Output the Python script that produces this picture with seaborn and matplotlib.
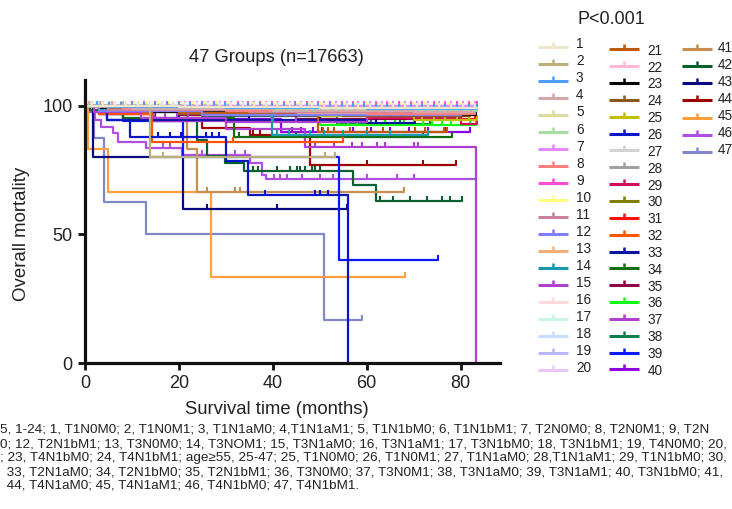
import numpy as np
import pandas as pd
import matplotlib
matplotlib.use("Agg")
import matplotlib.pyplot as plt
from matplotlib.lines import Line2D
import seaborn as sns

# ---------------- data ----------------
group_labels = [str(i) for i in range(1, 48)]

colors = [
    "#ece6cc", "#bcb079", "#4d9fff", "#d4a9a9", "#d9d9a0", "#a6dda0", "#e28bff", "#ff7f7f",
    "#ff4fd3", "#ffff80", "#c87fa0", "#8080ff", "#f5b07a", "#1a9aaa", "#b040d0", "#ffdada",
    "#c8f5e6", "#c8ddff", "#b8b8ff", "#ebc8f5",
    "#c05a0a", "#ffb8d8", "#000000", "#8b5a1a", "#c0c000", "#0a14c8", "#d3d3d3", "#a0a0a0",
    "#d0105a", "#7f7f00", "#ff1010", "#ff5500", "#0a14a0", "#107010", "#900040", "#10ff10",
    "#b040d0", "#108050", "#0a1aff", "#9000e0",
    "#c89050", "#0b6030", "#0a0a80", "#a00000", "#ffa040", "#b050e0", "#8088c8",
]

event_times = [
    [20, 50], [13.9], [5, 30, 60], [10, 40, 70], [15, 50], [10, 40, 70], [], [8, 30, 60],
    [], [20], [5, 35], [3, 25], [10, 45], [3, 39.8], [2, 12, 30], [30],
    [15], [25, 60], [10, 50], [5, 40],
    [5, 20, 35, 49.7], [15], [3, 14.8, 50, 80], [4, 20, 55], [5, 25, 50, 70],
    [4.6, 9.6, 30, 34.8, 56], [10, 40], [5, 30, 60], [5, 25, 60, 80], [3, 20, 50],
    [10, 40, 70], [3, 14.2], [3, 4.6, 60], [8, 31.7], [6, 20, 45], [20, 50],
    [4, 14, 30, 46.9, 83.2], [5, 25, 53.6], [3, 8, 20.8, 54], [3, 15, 41.8],
    [5, 21.7, 23.8], [1, 8, 23.8, 25.9, 29.8, 33.8, 57, 62], [1.6, 20.8],
    [5, 15, 25, 35.2, 48], [0.7, 4.8, 26.8],
    [1, 2.1, 3.5, 6, 7, 12.9, 20.6, 35.2, 37.7, 38.5], [2, 4, 13, 51],
]

event_surv = [
    [99.6, 99.2], [80], [99.5, 99.2, 98.8], [99, 98, 97.5], [99.4, 98.8], [99.3, 98.6, 98], [], [99, 98, 97],
    [], [99.5], [98.5, 97.5], [98, 96.5], [98.5, 97], [98.4, 88.7], [97.5, 95.5, 93.8], [99.5],
    [99.6], [99.3, 98.9], [99.2, 98.5], [99.5, 99],
    [98.7, 97.3, 96.7, 90], [99.7], [99.3, 97.6, 97.2, 96.5], [98.5, 97, 96], [99, 97.5, 96, 94.5],
    [94.5, 88, 78.6, 65.3, 0], [99.4, 99], [98.8, 97.8, 97], [98.5, 96.5, 95.5, 93], [99, 97.8, 96.5],
    [98, 96.5, 95], [97, 86.1], [97, 94.5, 93.5], [95.2, 88], [98, 96.5, 95], [97, 92.6],
    [97, 94, 91, 84.2, 0], [98, 96, 93], [97, 94, 80, 40], [98, 95, 90],
    [97.5, 83.3, 66.7], [98.5, 95, 86.8, 80.5, 78, 74.7, 69.3, 62.9], [80, 60],
    [97, 94, 91.5, 88.7, 77], [83.3, 66.7, 33.3],
    [97.5, 94.5, 92, 89.5, 86, 83.5, 80.9, 77.8, 73.2, 71.4], [87.5, 62.5, 50, 16.7],
]

end_times = [
    83.5, 53.2, 83.5, 83, 83.5, 83.5, 83.5, 83, 83.5, 83.5, 82, 80, 82, 73, 60, 83.5,
    83.5, 83.5, 83.5, 83.5,
    77.1, 83.5, 83.3, 82, 83.5, 56, 83.5, 83, 83.5, 82, 83, 55, 70.4, 78.2, 80, 83.3,
    83.2, 73.5, 75.2, 82,
    68, 80.3, 55.8, 79.1, 68.1, 83.2, 59.1,
]

dense_a = [1.4, 3.9, 6.3, 8.8, 11.2, 13.9, 16.3, 18.7, 21.4, 23.8, 26.1, 28.7, 31.2, 33.6, 36.1, 38.5, 41.0,
           43.6, 46.0, 48.3, 50.9, 53.4, 55.8, 58.2, 60.7, 63.3, 65.6, 68.1, 70.7, 73.1, 75.4, 78.0, 80.5, 83.0]
dense_b = [2.6, 5.1, 7.7, 10.1, 12.6, 15.0, 17.5, 20.1, 22.4, 25.0, 27.4, 29.9, 32.5, 34.8, 37.3, 39.8, 42.3,
           44.7, 47.2, 49.6, 52.1, 54.7, 57.0, 59.5, 62.0, 64.4, 66.9, 69.4, 71.8, 74.3, 76.7, 79.3, 81.7, 83.4]
dense_c = [0.8, 3.2, 5.7, 8.1, 10.6, 12.9, 15.6, 17.9, 20.5, 22.9, 25.6, 27.9, 30.4, 32.9, 35.5, 37.8, 40.3,
           42.9, 45.3, 47.7, 50.2, 52.6, 55.1, 57.6, 60.1, 62.6, 65.0, 67.5, 70.0, 72.4, 74.9, 77.3, 79.9, 82.3]

censor_times = [
    dense_a, [16.7, 51.2, 53.2], dense_b, dense_c, dense_a, dense_b, dense_a, dense_c,
    dense_b, dense_c, [10, 25, 40, 55, 70, 82], [20, 45, 66, 80], [12, 33, 58, 82],
    [41, 43.5, 48, 51, 55, 60, 65, 73], [14.8, 17, 19.5, 22, 26, 40, 45, 60], dense_c,
    dense_a, dense_b, dense_c, dense_a,
    [20, 36, 38, 41, 43, 50.8, 51.8, 53, 56.5, 60, 63.5, 70.3, 72.5, 76.5, 77.1], dense_b,
    [15.5, 16.2, 17, 17.8, 18.6, 19.5, 20.5, 22, 30, 34, 38, 42, 46, 50, 55, 60, 65, 70, 75, 80, 83.3],
    [8, 25, 32.5, 33.5, 39, 43, 47, 56, 62, 68, 74, 80, 82], dense_b,
    [15.5, 18, 20.5, 25.8, 27, 28.5, 38.4, 49, 50.1, 51.8], dense_c, [12, 28, 44, 60, 76, 83],
    [18, 30, 38, 44, 52, 60, 68, 76, 83.5], [15, 30, 45, 60, 75, 82], [22, 36, 48, 58, 66, 74, 80, 83],
    [31.6, 55], [20, 35, 50, 62, 70.4], [32.7, 45, 55, 65, 72, 78.2], [25, 50, 65, 80],
    [54, 56, 58, 60, 62, 64, 66, 68, 70, 72, 74, 76, 78, 80, 82, 83.3],
    [49, 53, 56.9, 59, 62.2, 64, 70, 71], [55, 58, 61, 64, 67, 70, 73.5], [53.3, 75.2],
    [44, 46, 48.5, 50.5, 53, 57, 61, 65, 69, 73, 77, 82],
    [26, 32, 33, 68],
    [35.8, 36.9, 40.9, 43.7, 45.2, 45.8, 46.9, 48.4, 49, 50.1, 62.9, 65.7, 69.3, 72.9, 76.1, 77.8, 80.3],
    [26, 41, 55.8], [35.8, 37.2, 60, 72, 79.1], [68.1],
    [16.7, 18.1, 24.9, 32, 34.1, 40.2, 41.6, 43, 46.2, 50.1, 52.9, 60, 66.5, 70], [59.1],
]

x_ticks = [0, 20, 40, 60, 80]
y_ticks = [0, 50, 100]

title_text = "47 Groups (n=17663)"
pvalue_text = "P<0.001"
caption_lines = [
    "5, 1-24; 1, T1N0M0; 2, T1N0M1; 3, T1N1aM0; 4,T1N1aM1; 5, T1N1bM0; 6, T1N1bM1; 7, T2N0M0; 8, T2N0M1; 9, T2N",
    "0; 12, T2N1bM1; 13, T3N0M0; 14, T3NOM1; 15, T3N1aM0; 16, T3N1aM1; 17, T3N1bM0; 18, T3N1bM1; 19, T4N0M0; 20,",
    "; 23, T4N1bM0; 24, T4N1bM1; age\u226555, 25-47; 25, T1N0M0; 26, T1N0M1; 27, T1N1aM0; 28,T1N1aM1; 29, T1N1bM0; 30,",
    " 33, T2N1aM0; 34, T2N1bM0; 35, T2N1bM1; 36, T3N0M0; 37, T3N0M1; 38, T3N1aM0; 39, T3N1aM1; 40, T3N1bM0; 41,",
    " 44, T4N1aM0; 45, T4N1aM1; 46, T4N1bM0; 47, T4N1bM1.",
]

# ---------------- style ----------------
sns.set_style("ticks")
plt.rcParams["font.family"] = ["Liberation Sans", "DejaVu Sans"]
TXT = "#222222"

W, H = 732, 509
fig = plt.figure(figsize=(W / 100, H / 100), dpi=100)
ax = fig.add_axes([85 / W, 1 - 363 / H, 415 / W, 283 / H])


def surv_at(ts, ss, x):
    val = 100.0
    for t, s in zip(ts, ss):
        if t <= x:
            val = s
    return val


for gi in reversed(range(len(group_labels))):
    ts, ss = event_times[gi], event_surv[gi]
    last = ss[-1] if ss else 100.0
    df = pd.DataFrame({"time": [0.0] + ts + [end_times[gi]],
                       "surv": [100.0] + ss + [last]})
    sns.lineplot(data=df, x="time", y="surv", color=colors[gi], lw=1.6,
                 drawstyle="steps-post", estimator=None, sort=False, ax=ax, legend=False)
    ct = censor_times[gi]
    cs = [surv_at(ts, ss, x) for x in ct]
    ax.plot(ct, cs, ls="none", marker=2, ms=3.6, mew=1.5, color=colors[gi])

ax.set_xlim(0, 88.4)
ax.set_ylim(0, 110.1)
ax.set_xticks(x_ticks)
ax.set_yticks(y_ticks)
sns.despine(ax=ax)
for side in ["left", "bottom"]:
    ax.spines[side].set_linewidth(2.3)
    ax.spines[side].set_color("#111111")
ax.tick_params(axis="both", length=5, width=2.0, color="#111111", labelsize=13,
               labelcolor=TXT, pad=4)

ax.set_xlabel("Survival time (months)", fontsize=13.3, color=TXT)
ax.set_ylabel("Overall mortality", fontsize=13.4, color=TXT)
ax.xaxis.set_label_coords((277 - 85) / 415, (363 - 410) / 283)
ax.xaxis.label.set_va("center")
ax.yaxis.set_label_coords((22 - 85) / 415, (363 - 234) / 283)
ax.yaxis.label.set_va("center")
ax.set_title(title_text, fontsize=13.2, color=TXT, x=(276 - 85) / 415,
             y=(363 - 58) / 283, va="center", pad=0)

fig.text(611 / W, 1 - 20 / H, pvalue_text, fontsize=13, color=TXT, ha="center", va="center")

# ---------------- legend (three columns: 20, 20, 7) ----------------
legend_cols = [
    # first index, count, handle x0, handle x1, label x, handle y0, label y0, pitch
    (0, 20, 538, 568, 576, 46.5, 44.3, 17.05),
    (20, 20, 609, 639, 647.5, 49.3, 50.7, 16.85),
    (40, 7, 682, 711.5, 717.5, 49.3, 47.7, 17.05),
]
for first, count, hx0, hx1, lx, hy0, ly0, pitch in legend_cols:
    for k in range(count):
        gi = first + k
        hy = 1 - (hy0 + pitch * k) / H
        fig.add_artist(Line2D([hx0 / W, hx1 / W], [hy, hy], transform=fig.transFigure,
                              color=colors[gi], lw=2.2, solid_capstyle="butt"))
        fig.add_artist(Line2D([(hx0 + hx1) / 2 / W], [hy], transform=fig.transFigure,
                              ls="none", marker=2, ms=3.8, mew=1.8, color=colors[gi]))
        fig.text(lx / W, 1 - (ly0 + pitch * k) / H, group_labels[gi], fontsize=9.8,
                 color=TXT, ha="left", va="center")

# ---------------- caption ----------------
caption_x = [0, 0, 0, 3, 3]
caption_y = [430, 444.2, 458.3, 472.3, 486]
for line, cx, cy in zip(caption_lines, caption_x, caption_y):
    fig.text(cx / W, 1 - cy / H, line, fontsize=9.7, color=TXT, ha="left", va="center")

fig.savefig("out.png", dpi=100)
